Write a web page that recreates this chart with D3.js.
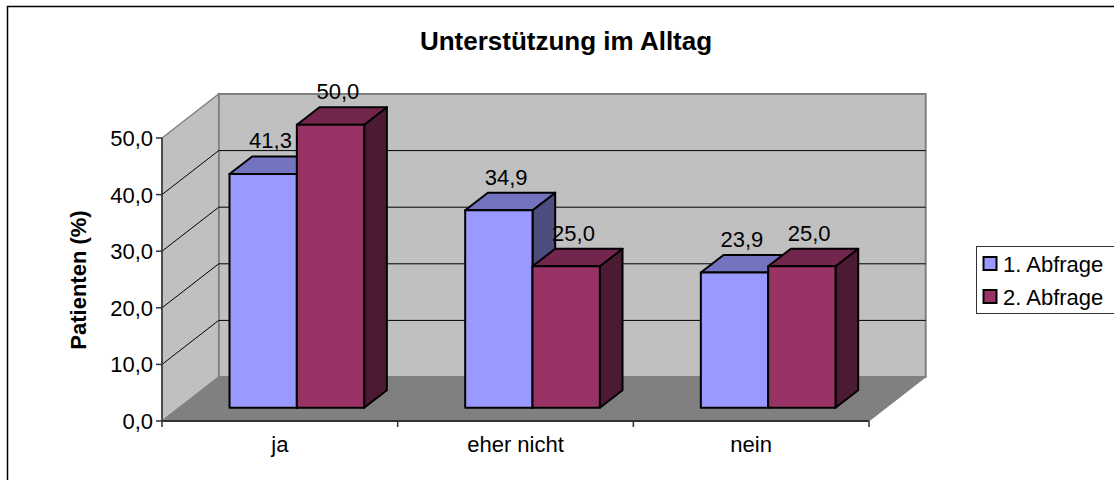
<!DOCTYPE html>
<html lang="de">
<head>
    <meta charset="UTF-8">
    <title>Unterstützung im Alltag</title>
    <script src="https://d3js.org/d3.v7.min.js"></script>
    <style>
        body { margin: 0; background: #fff; }
        svg { display: block; }
        text { font-family: "Liberation Sans", Arial, sans-serif; fill: #000; }
        .title { font-size: 26px; font-weight: bold; }
        .axis-title { font-size: 22px; font-weight: bold; }
        .tick-label, .cat-label, .value-label, .legend-label { font-size: 22px; }
    </style>
</head>
<body>
<svg id="chart" width="1114" height="480"></svg>
<script>
    // data
    const categories = ["ja", "eher nicht", "nein"];
    const seriesNames = ["1. Abfrage", "2. Abfrage"];
    const abfrage1 = [41.3, 34.9, 23.9];
    const abfrage2 = [50.0, 25.0, 25.0];
    const yTicks = [0, 10, 20, 30, 40, 50];

    const seriesValues = [abfrage1, abfrage2];
    // front, top, side shades per series
    const colors = [
        { front: "#9999FF", top: "#7373BF", side: "#4D4D80" },
        { front: "#993366", top: "#73264D", side: "#4D1A33" }
    ];

    const svg = d3.select("#chart");

    // outer chart border
    svg.append("rect")
        .attr("x", 7.5).attr("y", 6.5)
        .attr("width", 1120).attr("height", 490)
        .attr("fill", "#fff")
        .attr("stroke", "#000")
        .attr("stroke-width", 1.5);

    svg.append("text")
        .attr("class", "title")
        .attr("x", 566).attr("y", 50)
        .attr("text-anchor", "middle")
        .text("Unterstützung im Alltag");

    const x0 = 162, x1 = 869;
    const depthX = 56.7, depthY = 44;

    const x = d3.scaleBand().domain(categories).range([x0, x1]).padding(0);
    const xs = d3.scaleBand().domain(seriesNames).range([0, x.bandwidth()])
        .paddingInner(0).paddingOuter(0.75);
    const y = d3.scaleLinear().domain([0, 50]).range([421, 138]);

    // project a point (x px, value, depth 0..1) to screen
    function proj(px, v, d) {
        return [px + d * depthX, y(v) - d * depthY];
    }
    const poly = pts => "M" + pts.map(p => p.join(",")).join("L") + "Z";

    const yMax = d3.max(yTicks);

    // back wall
    svg.append("path")
        .attr("d", poly([proj(x0, 0, 1), proj(x0, yMax, 1), proj(x1, yMax, 1), proj(x1, 0, 1)]))
        .attr("fill", "#C0C0C0")
        .attr("stroke", "#808080")
        .attr("stroke-width", 2);

    // left wall
    svg.append("path")
        .attr("d", poly([proj(x0, 0, 0), proj(x0, yMax, 0), proj(x0, yMax, 1), proj(x0, 0, 1)]))
        .attr("fill", "#C0C0C0")
        .attr("stroke", "#808080")
        .attr("stroke-width", 1.5);

    // floor
    svg.append("path")
        .attr("d", poly([proj(x0, 0, 0), proj(x1, 0, 0), proj(x1, 0, 1), proj(x0, 0, 1)]))
        .attr("fill", "#808080")
        .attr("stroke", "#808080")
        .attr("stroke-width", 1);

    // gridlines (back wall + left wall)
    const grid = svg.append("g");
    yTicks.filter(t => t > 0 && t < yMax).forEach(t => {
        const a = proj(x0, t, 0), b = proj(x0, t, 1), c = proj(x1, t, 1);
        grid.append("path")
            .attr("d", "M" + a.join(",") + "L" + b.join(",") + "L" + c.join(","))
            .attr("fill", "none")
            .attr("stroke", "#000")
            .attr("stroke-width", 1);
    });

    // y axis
    svg.append("line")
        .attr("x1", x0).attr("x2", x0)
        .attr("y1", y(yMax)).attr("y2", y(0))
        .attr("stroke", "#333").attr("stroke-width", 1.5);

    const fmt = d3.formatLocale({ decimal: ",", thousands: ".", grouping: [3], currency: ["", "€"] }).format(".1f");

    const yAxis = svg.append("g");
    yTicks.forEach(t => {
        yAxis.append("line")
            .attr("x1", x0 - 6).attr("x2", x0)
            .attr("y1", y(t)).attr("y2", y(t))
            .attr("stroke", "#333").attr("stroke-width", 1.5);
        yAxis.append("text")
            .attr("class", "tick-label")
            .attr("x", x0 - 9).attr("y", y(t))
            .attr("dy", "0.36em")
            .attr("text-anchor", "end")
            .text(fmt(t));
    });

    svg.append("text")
        .attr("class", "axis-title")
        .attr("transform", "translate(86," + 280 + ") rotate(-90)")
        .attr("text-anchor", "middle")
        .text("Patienten (%)");

    // bars, drawn left to right so later bars cover side faces
    const barFront = 0.3, barBack = 0.7;
    const bars = svg.append("g");
    categories.forEach((cat, i) => {
        seriesNames.forEach((s, j) => {
            const v = seriesValues[j][i];
            const left = x(cat) + xs(s);
            const right = left + xs.bandwidth();
            const c = colors[j];
            const fl = d => proj(left, d[0], d[1]);
            const fr = d => proj(right, d[0], d[1]);
            const g = bars.append("g")
                .attr("stroke", "#000")
                .attr("stroke-width", 2)
                .attr("stroke-linejoin", "round");
            // side
            g.append("path")
                .attr("d", poly([fr([0, barFront]), fr([v, barFront]), fr([v, barBack]), fr([0, barBack])]))
                .attr("fill", c.side);
            // top
            g.append("path")
                .attr("d", poly([fl([v, barFront]), fr([v, barFront]), fr([v, barBack]), fl([v, barBack])]))
                .attr("fill", c.top);
            // front
            g.append("path")
                .attr("d", poly([fl([0, barFront]), fl([v, barFront]), fr([v, barFront]), fr([0, barFront])]))
                .attr("fill", c.front);
        });
    });

    // x axis
    svg.append("line")
        .attr("x1", x0).attr("x2", x1)
        .attr("y1", y(0)).attr("y2", y(0))
        .attr("stroke", "#333").attr("stroke-width", 2);

    const bounds = categories.map(c => x(c)).concat([x1]);
    bounds.forEach(b => {
        svg.append("line")
            .attr("x1", b).attr("x2", b)
            .attr("y1", y(0)).attr("y2", y(0) + 6)
            .attr("stroke", "#333").attr("stroke-width", 1.5);
    });

    svg.append("g").selectAll("text")
        .data(categories)
        .join("text")
        .attr("class", "cat-label")
        .attr("x", d => x(d) + x.bandwidth() / 2)
        .attr("y", 452)
        .attr("text-anchor", "middle")
        .text(d => d);

    // value labels
    const labels = svg.append("g");
    categories.forEach((cat, i) => {
        seriesNames.forEach((s, j) => {
            const v = seriesValues[j][i];
            const cx = x(cat) + xs(s) + xs.bandwidth() / 2;
            const p = proj(cx, v, (barFront + barBack) / 2);
            const top = proj(cx, v, barBack);
            labels.append("text")
                .attr("class", "value-label")
                .attr("x", p[0] - 4)
                .attr("y", top[1] - 8)
                .attr("text-anchor", "middle")
                .text(fmt(v));
        });
    });

    // legend
    const legend = svg.append("g");
    legend.append("rect")
        .attr("x", 976.5).attr("y", 246.5)
        .attr("width", 150).attr("height", 67)
        .attr("fill", "#fff")
        .attr("stroke", "#333").attr("stroke-width", 1);
    seriesNames.forEach((s, j) => {
        const cy = 264 + j * 33;
        legend.append("rect")
            .attr("x", 983.5).attr("y", cy - 7)
            .attr("width", 13).attr("height", 13)
            .attr("fill", colors[j].front)
            .attr("stroke", "#000").attr("stroke-width", 2);
        legend.append("text")
            .attr("class", "legend-label")
            .attr("x", 1003).attr("y", cy)
            .attr("dy", "0.36em")
            .text(s);
    });
</script>
</body>
</html>
